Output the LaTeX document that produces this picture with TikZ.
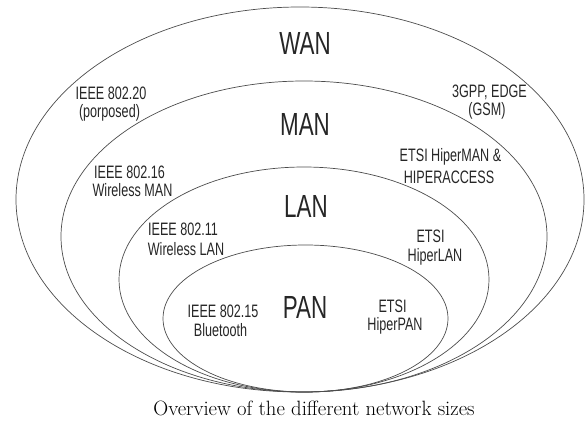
\documentclass[tikz,border=0pt]{standalone}
\usepackage{fontspec}
\newfontfamily\condsans[FakeStretch=0.7]{Liberation Sans}
\usetikzlibrary{shapes.geometric}
\tikzset{
  ring/.style={draw=black!70, line width=0.7pt, shape=ellipse, inner sep=0pt},
  big/.style={font=\condsans\fontsize{32}{36}\selectfont, text=black!85, inner sep=0pt},
  lbl/.style={font=\condsans\fontsize{18}{20}\selectfont, text=black!85, inner sep=0pt, anchor=base},
}
\begin{document}
\begin{tikzpicture}[x=1pt,y=-1pt]
\useasboundingbox (0,0) rectangle (586,423);
% rings
\node[ring, minimum width=568pt, minimum height=385pt] (wan) at (300,199.5) {};
\node[ring, minimum width=486pt, minimum height=311pt] (man) at (304,236.5) {};
\node[ring, minimum width=370pt, minimum height=225pt] (lan) at (304,279.5) {};
\node[ring, minimum width=285pt, minimum height=147pt] (pan) at (305.5,318.5) {};
% titles
\node[big] (twan) at (305,43.5) {WAN};
\node[big] (tman) at (305,124) {MAN};
\node[big] (tlan) at (306,206) {LAN};
\node[big] (tpan) at (305,307.5) {PAN};
% WAN labels
\node[lbl] (w1) at (111,99) {IEEE 802.20};
\node[lbl] (w2) at (109.5,117) {(porposed)};
\node[lbl] (w3) at (489.5,97) {3GPP, EDGE};
\node[lbl] (w4) at (487,115) {(GSM)};
% MAN labels
\node[lbl] (m1) at (129.5,178) {IEEE 802.16};
\node[lbl] (m2) at (132.5,196) {Wireless MAN};
\node[lbl] (m3) at (450.5,161) {ETSI HiperMAN \&};
\node[lbl] (m4) at (449,183) {HIPERACCESS};
% LAN labels
\node[lbl] (l1) at (183,235) {IEEE 802.11};
\node[lbl] (l2) at (186,255) {Wireless LAN};
\node[lbl] (l3) at (430.5,242) {ETSI};
\node[lbl] (l4) at (435,261) {HiperLAN};
% PAN labels
\node[lbl] (p1) at (223,317) {IEEE 802.15};
\node[lbl] (p2) at (220.5,336) {Bluetooth};
\node[lbl] (p3) at (392.5,312) {ETSI};
\node[lbl] (p4) at (395,330) {HiperPAN};
% caption
\node[anchor=base, inner sep=0pt, font=\fontsize{20.7}{24}\selectfont] (cap) at (314,415) {Overview of the different network sizes};
\end{tikzpicture}
\end{document}
